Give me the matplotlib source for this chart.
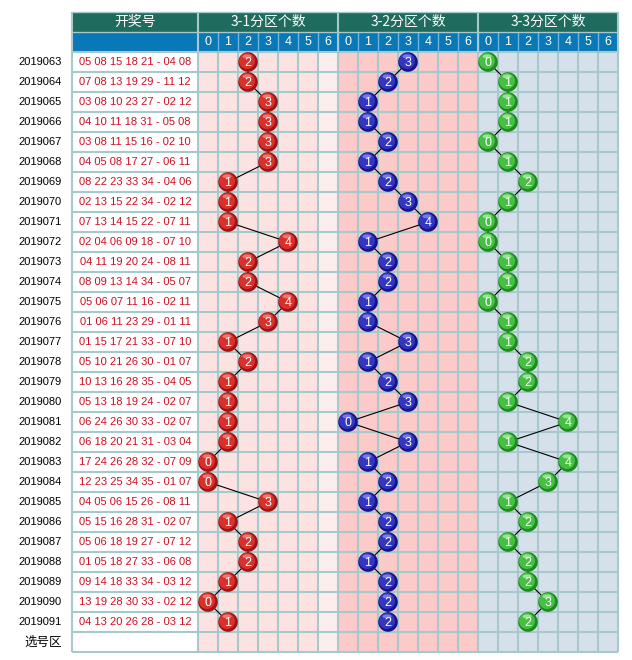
import matplotlib
matplotlib.use("Agg")
import matplotlib.pyplot as plt
from matplotlib.patches import Rectangle, Circle, Ellipse

plt.rcParams['font.family'] = ['Liberation Sans', 'Noto Sans CJK SC', 'DejaVu Sans']

periods = ["2019063", "2019064", "2019065", "2019066", "2019067", "2019068", "2019069",
           "2019070", "2019071", "2019072", "2019073", "2019074", "2019075", "2019076",
           "2019077", "2019078", "2019079", "2019080", "2019081", "2019082", "2019083",
           "2019084", "2019085", "2019086", "2019087", "2019088", "2019089", "2019090",
           "2019091"]
draws = ["05 08 15 18 21 - 04 08", "07 08 13 19 29 - 11 12", "03 08 10 23 27 - 02 12",
         "04 10 11 18 31 - 05 08", "03 08 11 15 16 - 02 10", "04 05 08 17 27 - 06 11",
         "08 22 23 33 34 - 04 06", "02 13 15 22 34 - 02 12", "07 13 14 15 22 - 07 11",
         "02 04 06 09 18 - 07 10", "04 11 19 20 24 - 08 11", "08 09 13 14 34 - 05 07",
         "05 06 07 11 16 - 02 11", "01 06 11 23 29 - 01 11", "01 15 17 21 33 - 07 10",
         "05 10 21 26 30 - 01 07", "10 13 16 28 35 - 04 05", "05 13 18 19 24 - 02 07",
         "06 24 26 30 33 - 02 07", "06 18 20 21 31 - 03 04", "17 24 26 28 32 - 07 09",
         "12 23 25 34 35 - 01 07", "04 05 06 15 26 - 08 11", "05 15 16 28 31 - 02 07",
         "05 06 18 19 27 - 07 12", "01 05 18 27 33 - 06 08", "09 14 18 33 34 - 03 12",
         "13 19 28 30 33 - 02 12", "04 13 20 26 28 - 03 12"]
zone1 = [2, 2, 3, 3, 3, 3, 1, 1, 1, 4, 2, 2, 4, 3, 1, 2, 1, 1, 1, 1, 0, 0, 3, 1, 2, 2, 1, 0, 1]
zone2 = [3, 2, 1, 1, 2, 1, 2, 3, 4, 1, 2, 2, 1, 1, 3, 1, 2, 3, 0, 3, 1, 2, 1, 2, 2, 1, 2, 2, 2]
zone3 = [0, 1, 1, 1, 0, 1, 2, 1, 0, 0, 1, 1, 0, 1, 1, 2, 2, 1, 4, 1, 4, 3, 1, 2, 1, 2, 2, 3, 2]
group_titles = ["3-1分区个数", "3-2分区个数", "3-3分区个数"]
digit_labels = ["0", "1", "2", "3", "4", "5", "6"]
header_draw = "开奖号"
select_label = "选号区"

# colors
hdr1 = "#1f6b5d"
hdr2 = "#0a78b6"
grid_c = "#a7c9cb"
bg_groups = ["#fde2e2", "#fdcaca", "#d6e0ea"]
ball_cols = [("#a01414", "#d9302c", "#f08a80"),
             ("#14148c", "#3436c0", "#8a8cf0"),
             ("#1f8a1f", "#45c043", "#a8f0a0")]
red_text = "#cc1020"

fig = plt.figure(figsize=(6.32, 6.60), dpi=100)
ax = fig.add_axes([0, 0, 1, 1])
ax.set_xlim(-9.9, 21.7)
ax.set_ylim(30.4, -2.6)
ax.axis("off")

n = len(periods)
left = -6.3
ncol = 21
nrows = n + 1  # plus selection row

# backgrounds
ax.add_patch(Rectangle((left, 0), -left, nrows, facecolor="white", edgecolor="none", zorder=0))
for g in range(3):
    ax.add_patch(Rectangle((g * 7, 0), 7, nrows, facecolor=bg_groups[g], edgecolor="none", zorder=0))
# lighter last column of first group
ax.add_patch(Rectangle((6, 0), 1, nrows, facecolor="#fdeeee", edgecolor="none", zorder=0))
# headers
ax.add_patch(Rectangle((left, -2), ncol - left, 1, facecolor=hdr1, edgecolor="none", zorder=1))
ax.add_patch(Rectangle((left, -1), ncol - left, 1, facecolor=hdr2, edgecolor="none", zorder=1))

# grid lines
lw = 1.5
ax.hlines(range(0, nrows + 1), left, ncol, colors=grid_c, linewidth=lw, zorder=2)
ax.vlines(range(0, ncol + 1), 0, nrows, colors=grid_c, linewidth=lw, zorder=2)
ax.vlines([left], -2, nrows, colors=grid_c, linewidth=lw, zorder=2)
ax.vlines(range(1, ncol), -1, 0, colors="#6fb4da", linewidth=1.0, zorder=2)
ax.vlines([0, 7, 14, 21], -2, 0, colors=grid_c, linewidth=lw, zorder=2)
ax.hlines([-2, -1], left, ncol, colors=grid_c, linewidth=1.0, zorder=2)

# header texts
ax.text(left / 2, -1.5, header_draw, color="white", fontsize=10, ha="center", va="center",
        family=["Noto Sans CJK SC"], zorder=3)
for g in range(3):
    ax.text(g * 7 + 3.5, -1.5, group_titles[g], color="white", fontsize=10, ha="center",
            va="center", family=["Noto Sans CJK SC"], zorder=3)
    for d, lab in enumerate(digit_labels):
        ax.text(g * 7 + d + 0.5, -0.5, lab, color="white", fontsize=9, ha="center",
                va="center", zorder=3)

# rows
for i in range(n):
    ax.text(-6.8, i + 0.5, periods[i], color="black", fontsize=8, ha="right", va="center", zorder=3)
    ax.text(left / 2, i + 0.5, draws[i], color=red_text, fontsize=8, ha="center", va="center", zorder=3)
ax.text(-6.8, n + 0.5, select_label, color="black", fontsize=9, ha="right", va="center",
        family=["Noto Sans CJK SC"], zorder=3)

# balls
for g, vals in enumerate([zone1, zone2, zone3]):
    xs = [g * 7 + v + 0.5 for v in vals]
    ys = [i + 0.5 for i in range(n)]
    ax.plot(xs, ys, color="black", linewidth=0.8, zorder=4)
    dark, mid, light = ball_cols[g]
    for x, y, v in zip(xs, ys, vals):
        ax.add_patch(Circle((x, y), 0.49, facecolor=dark, edgecolor="none", zorder=5))
        ax.add_patch(Circle((x - 0.05, y - 0.05), 0.40, facecolor=mid, edgecolor="none", zorder=6))
        ax.add_patch(Ellipse((x - 0.05, y - 0.28), 0.45, 0.2, facecolor=light, edgecolor="none",
                             alpha=0.8, zorder=7))
        ax.text(x, y + 0.03, str(v), color="white", fontsize=9, ha="center", va="center", zorder=8)

fig.savefig("out.png", dpi=100, facecolor="white")
